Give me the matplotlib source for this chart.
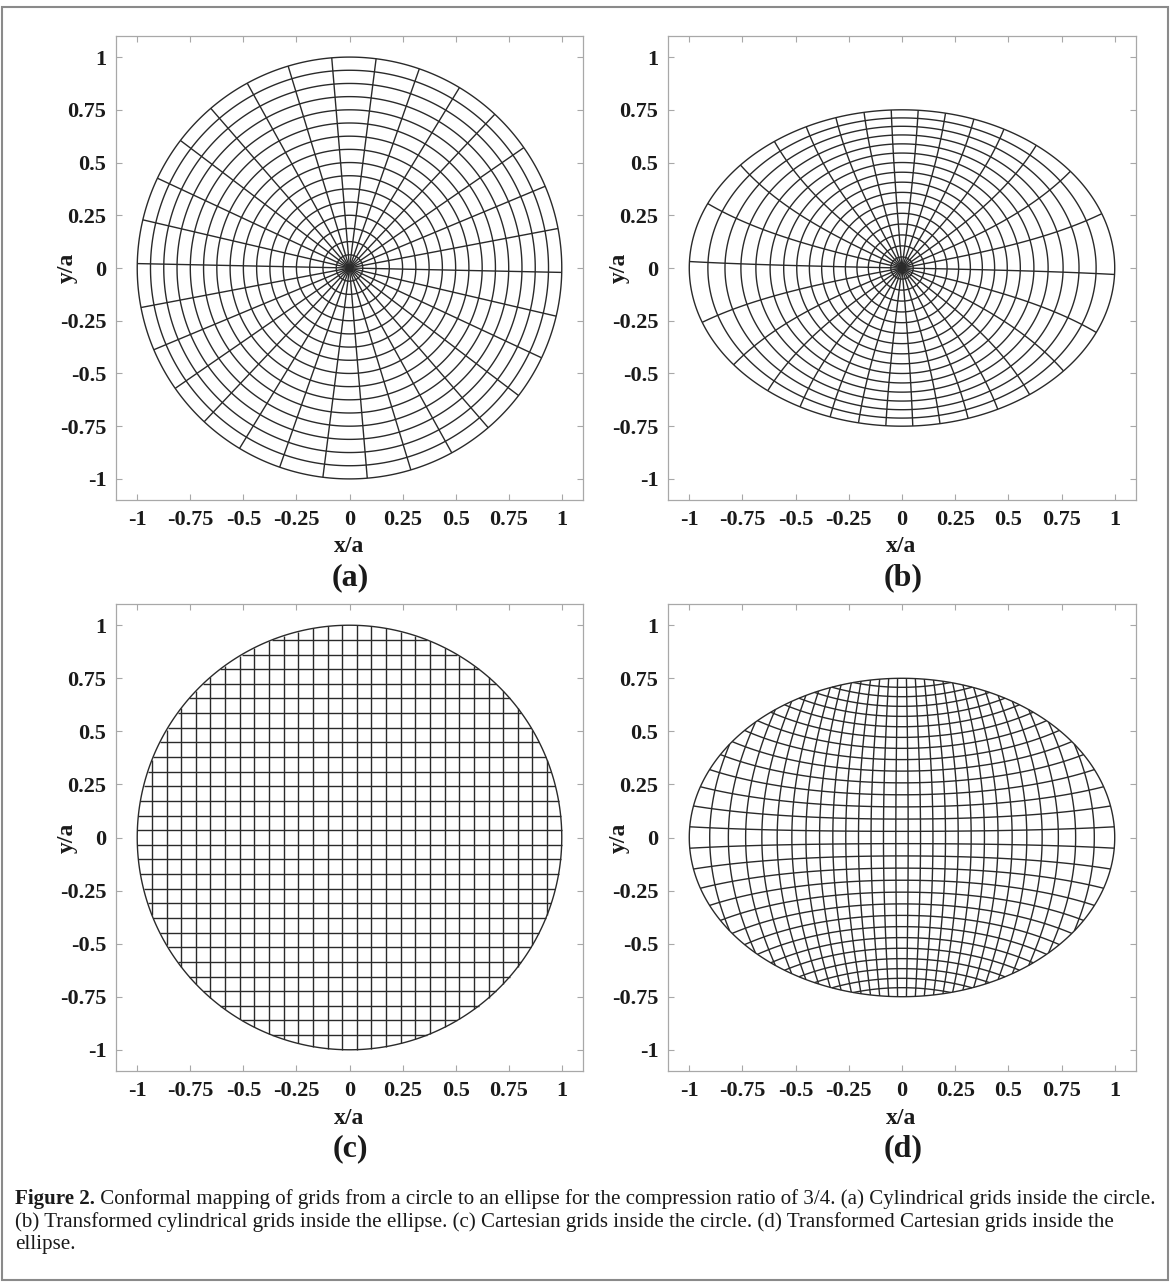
import numpy as np
import matplotlib
matplotlib.use("Agg")
import matplotlib.pyplot as plt
from matplotlib.collections import LineCollection

# ---------------- data ----------------
circle_radii = [0.0625, 0.125, 0.1875, 0.25, 0.3125, 0.375, 0.4375, 0.5,
                0.5625, 0.625, 0.6875, 0.75, 0.8125, 0.875, 0.9375, 1.0]
ray_angles_deg = [-1.2, 10.8, 22.8, 34.8, 46.8, 58.8, 70.8, 82.8, 94.8, 106.8,
                  118.8, 130.8, 142.8, 154.8, 166.8, 178.8, 190.8, 202.8, 214.8,
                  226.8, 238.8, 250.8, 262.8, 274.8, 286.8, 298.8, 310.8, 322.8,
                  334.8, 346.8]
grid_levels = [-1.0, -0.93103, -0.86207, -0.7931, -0.72414, -0.65517, -0.58621,
               -0.51724, -0.44828, -0.37931, -0.31034, -0.24138, -0.17241,
               -0.10345, -0.03448, 0.03448, 0.10345, 0.17241, 0.24138, 0.31034,
               0.37931, 0.44828, 0.51724, 0.58621, 0.65517, 0.72414, 0.7931,
               0.86207, 0.93103, 1.0]
compression_ratio = 0.75
tick_values = [-1, -0.75, -0.5, -0.25, 0, 0.25, 0.5, 0.75, 1]
tick_labels = ['-1', '-0.75', '-0.5', '-0.25', '0', '0.25', '0.5', '0.75', '1']
panel_labels = ['(a)', '(b)', '(c)', '(d)']
caption_bold = "Figure 2."
caption_lines = [
    " Conformal mapping of grids from a circle to an ellipse for the compression ratio of 3/4. (a) Cylindrical grids inside the circle.",
    "(b) Transformed cylindrical grids inside the ellipse. (c) Cartesian grids inside the circle. (d) Transformed Cartesian grids inside the",
    "ellipse.",
]

# ---------------- conformal map disk -> ellipse (Schwarz) ----------------
def carlson_rf(x, y, z, n=40):
    x = np.asarray(x, complex); y = np.asarray(y, complex); z = np.asarray(z, complex)
    for _ in range(n):
        sx, sy, sz = np.sqrt(x), np.sqrt(y), np.sqrt(z)
        lam = sx * sy + sx * sz + sy * sz
        x, y, z = (x + lam) / 4, (y + lam) / 4, (z + lam) / 4
    return 1.0 / np.sqrt((x + y + z) / 3)

def agm(a, b):
    for _ in range(60):
        a, b = (a + b) / 2, np.sqrt(a * b)
    return a

def ellK(k):
    return np.pi / (2 * agm(1.0, np.sqrt(1 - k * k)))

rho = np.arctanh(compression_ratio)
lo, hi = 1e-9, 1 - 1e-12
for _ in range(200):
    mid = 0.5 * (lo + hi)
    r = np.pi * ellK(np.sqrt(1 - mid ** 2)) / (4 * ellK(mid))
    if r > rho:
        lo = mid
    else:
        hi = mid
s_mod = 0.5 * (lo + hi)
K_s = ellK(s_mod)

def conformal(z):
    z = np.asarray(z, complex)
    w = z / np.sqrt(s_mod)
    F = w * carlson_rf(1 - w * w, 1 - s_mod ** 2 * w * w, np.ones_like(w))
    return np.sin(np.pi / (2 * K_s) * F) / np.cosh(rho)

# ---------------- curves ----------------
def polar_curves():
    out = []
    th = np.linspace(0, 2 * np.pi, 721)
    for r in circle_radii:
        out.append(r * np.exp(1j * th))
    t = np.linspace(0, 1, 400)
    for a in ray_angles_deg:
        out.append(t * np.exp(1j * np.deg2rad(a)))
    return out

def cart_curves():
    out = []
    for c in grid_levels:
        h = np.sqrt(max(1 - c * c, 0))
        if h < 1e-6:
            continue
        t = np.linspace(-h, h, 400)
        out.append(c + 1j * t)
        out.append(t + 1j * c)
    th = np.linspace(0, 2 * np.pi, 721)
    out.append(np.exp(1j * th))
    return out

def to_segs(curves, mapped):
    segs = []
    for c in curves:
        p = conformal(c) if mapped else c
        segs.append(np.column_stack([p.real, p.imag]))
    return segs

# ---------------- figure ----------------
W, H = 1171, 1283
fig = plt.figure(figsize=(W / 100, H / 100), dpi=100)
SERIF = ['Liberation Serif', 'DejaVu Serif']

def fx(px):
    return px / W

def fy(py):
    return 1 - py / H

boxes = [(116, 36, 583, 500), (668, 36, 1136, 500),
         (116, 604, 583, 1071), (668, 604, 1136, 1071)]
content = [(polar_curves, False), (polar_curves, True),
           (cart_curves, False), (cart_curves, True)]

LINE_C = '#2a2a2a'
AX_C = '#a8a8a8'
for (l, t, r, b), (fn, mapped), lab in zip(boxes, content, panel_labels):
    ax = fig.add_axes([fx(l), fy(b), (r - l) / W, (b - t) / H])
    lc = LineCollection(to_segs(fn(), mapped), colors=LINE_C, linewidths=1.0)
    ax.add_collection(lc)
    ax.set_xlim(-1.1, 1.1)
    ax.set_ylim(-1.1, 1.1)
    ax.set_xticks(tick_values)
    ax.set_yticks(tick_values)
    ax.set_xticklabels(tick_labels)
    ax.set_yticklabels(tick_labels)
    ax.tick_params(direction='in', length=4, width=0.8, color=AX_C,
                   top=True, right=True, labelsize=16, pad=7, labelcolor='#1a1a1a')
    for tl in ax.get_xticklabels() + ax.get_yticklabels():
        tl.set_fontfamily(SERIF)
        tl.set_fontweight('bold')
    for sp in ax.spines.values():
        sp.set_color(AX_C)
        sp.set_linewidth(0.9)
    fig.text(fx((l + r) / 2 - 0.5), fy(b + 47), 'x/a', ha='center', va='center',
             fontsize=17, fontweight='bold', family=SERIF, color='#1a1a1a')
    fig.text(fx(l - 49), fy((t + b) / 2), 'y/a', ha='center', va='center',
             rotation=90, fontsize=17, fontweight='bold', family=SERIF, color='#1a1a1a')
    fig.text(fx((l + r) / 2 + 1), fy(b + 78), lab, ha='center', va='center',
             fontsize=23, fontweight='bold', family=SERIF, color='#1a1a1a')

# outer frame
fig.add_artist(plt.Rectangle((fx(2), fy(1280)), fx(1168) - fx(2), fy(7) - fy(1280),
                             transform=fig.transFigure, fill=False,
                             edgecolor='#8a8a8a', linewidth=1.5))

# caption
cap_size = 15.1
x0 = fx(15)
y_lines = [1199, 1222, 1245]
tb = fig.text(x0, fy(y_lines[0]), caption_bold, ha='left', va='center',
              fontsize=cap_size, fontweight='bold', family=SERIF, color='#1a1a1a')
renderer = fig.canvas.get_renderer()
bb = tb.get_window_extent(renderer=renderer)
fig.text(bb.x1 / W, fy(y_lines[0]), caption_lines[0], ha='left', va='center',
         fontsize=cap_size, family=SERIF, color='#1a1a1a')
for yl, txt in zip(y_lines[1:], caption_lines[1:]):
    fig.text(x0, fy(yl), txt, ha='left', va='center', fontsize=cap_size,
             family=SERIF, color='#1a1a1a')

fig.savefig('out.png', dpi=100)
